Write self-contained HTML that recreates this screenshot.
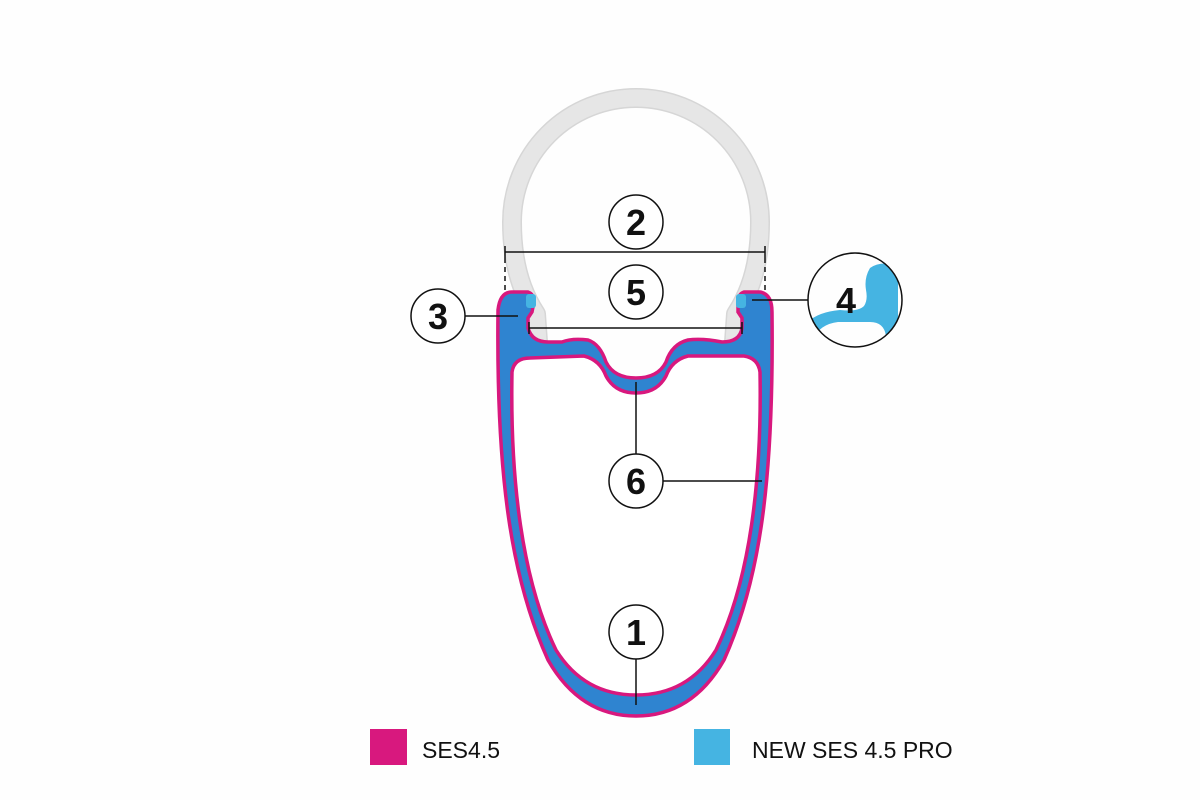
<!DOCTYPE html>
<html><head><style>html,body{margin:0;padding:0;background:#fff}svg{display:block}</style></head>
<body>
<svg width="1200" height="800" viewBox="0 0 1200 800" xmlns="http://www.w3.org/2000/svg">
<rect width="1200" height="800" fill="#fefefe"/>
<!-- tire -->
<path d="M 538 342 L 536 314 C 516 284 512 250 512 222 A 124 124 0 1 1 760 222 C 760 250 756 284 736 314 L 734 342" fill="none" stroke="#d6d6d6" stroke-width="20" stroke-linejoin="round"/>
<path d="M 538 342 L 536 314 C 516 284 512 250 512 222 A 124 124 0 1 1 760 222 C 760 250 756 284 736 314 L 734 342" fill="none" stroke="#e6e6e6" stroke-width="17" stroke-linejoin="round"/>
<!-- rim -->
<path d="M 498 310 Q 500 292 512 292 L 528 292 Q 534 294 534 302 L 532 312 L 528 318 L 528 328 Q 532 342 548 342 L 562 342 Q 572 338 588 340 Q 600 344 606 362 Q 614 378 636 378 Q 658 378 666 362 Q 672 344 688 340 Q 702 338 722 342 Q 740 342 742 328 L 742 318 L 738 312 L 738 302 Q 738 294 744 292 L 760 292 Q 772 294 772 312 C 774 480 760 580 724 660 Q 692 716 636 716 Q 580 716 548 660 C 512 580 496 480 498 310 Z" fill="#2f84d0" stroke="#d8187e" stroke-width="3.5"/>
<path d="M 512 372 Q 514 358 530 358 L 584 356 Q 600 360 606 376 Q 615 393 636 393 Q 657 393 666 376 Q 672 360 688 356 L 744 356 Q 758 358 760 372 C 762 480 750 580 716 650 Q 688 695 636 695 Q 584 695 556 650 C 522 580 510 480 512 372 Z" fill="#fff" stroke="#d8187e" stroke-width="3.5"/>
<rect x="526" y="294" width="10" height="14" rx="3" fill="#45b4e2"/>
<rect x="736" y="294" width="10" height="14" rx="3" fill="#45b4e2"/>
<!-- dimension lines -->
<g stroke="#111" stroke-width="1.5" fill="none">
<line x1="505" y1="252" x2="765" y2="252"/>
<line x1="505" y1="246" x2="505" y2="258"/><line x1="765" y1="246" x2="765" y2="258"/>
<line x1="505" y1="258" x2="505" y2="292" stroke-dasharray="5,4"/>
<line x1="765" y1="258" x2="765" y2="292" stroke-dasharray="5,4"/>
<line x1="529" y1="328" x2="742" y2="328"/>
<line x1="529" y1="322" x2="529" y2="334"/><line x1="742" y1="322" x2="742" y2="334"/>
<line x1="465" y1="316" x2="518" y2="316"/>
<line x1="752" y1="300" x2="808" y2="300"/>
<line x1="636" y1="382" x2="636" y2="454"/>
<line x1="663" y1="481" x2="762" y2="481"/>
<line x1="636" y1="659" x2="636" y2="705"/>
</g>
<!-- circle 4 detail -->
<defs><clipPath id="c4"><circle cx="855" cy="300" r="47"/></clipPath></defs>
<g clip-path="url(#c4)">
<path d="M 870 268 Q 878 262 892 264 Q 898 268 898 280 L 898 360 L 886 360 L 886 336 Q 884 322 870 322 L 838 322 Q 820 324 812 340 L 808 322 Q 818 312 840 310 Q 858 312 864 306 Q 868 300 866 290 Q 864 278 870 268 Z" fill="#45b4e2"/>
</g>
<g fill="#fff" stroke="#111" stroke-width="1.5">
<circle cx="636" cy="222" r="27"/>
<circle cx="636" cy="292" r="27"/>
<circle cx="438" cy="316" r="27"/>
<circle cx="855" cy="300" r="47" fill="none"/>
<circle cx="636" cy="481" r="27"/>
<circle cx="636" cy="632" r="27"/>
</g>
<g font-family="Liberation Sans, sans-serif" font-weight="bold" font-size="36" fill="#111" text-anchor="middle">
<text x="636" y="235">2</text>
<text x="636" y="305">5</text>
<text x="438" y="329">3</text>
<text x="846" y="313">4</text>
<text x="636" y="494">6</text>
<text x="636" y="645">1</text>
</g>
<!-- legend -->
<rect x="370" y="729" width="37" height="36" fill="#d8187e"/>
<text x="422" y="758" font-family="Liberation Sans, sans-serif" font-size="23" fill="#111">SES4.5</text>
<rect x="694" y="729" width="36" height="36" fill="#45b4e2"/>
<text x="752" y="758" font-family="Liberation Sans, sans-serif" font-size="23" fill="#111">NEW SES 4.5 PRO</text>
</svg>
</body></html>
